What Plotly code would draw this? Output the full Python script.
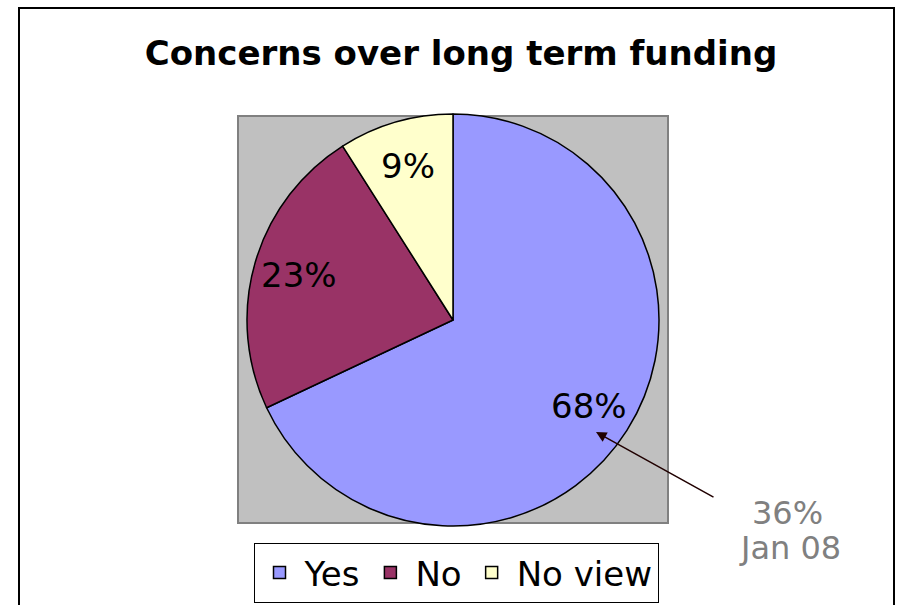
import math
import plotly.graph_objects as go

categories = ["Yes", "No", "No view"]
values = [68, 23, 9]
colors = ["#9999FF", "#993366", "#FFFFCC"]
title_text = "Concerns over long term funding"
note_lines = ["36%", "Jan 08"]

W, H = 899, 605

def px(x):
    return x / W

def py(y):
    return 1 - y / H

cx, cy, r = 453, 320, 206

fig = go.Figure()
fig.add_trace(go.Pie(
    labels=categories,
    values=values,
    sort=False,
    direction="clockwise",
    rotation=0,
    marker=dict(colors=colors, line=dict(color="black", width=1.5)),
    textinfo="none",
    domain=dict(x=[px(cx - r), px(cx + r)], y=[py(cy + r), py(cy - r)]),
    hoverinfo="skip",
))

shapes = [
    dict(type="rect", xref="paper", yref="paper", layer="below",
         x0=px(238), x1=px(668), y0=py(523), y1=py(116),
         fillcolor="#C0C0C0", line=dict(color="#808080", width=2)),
    dict(type="rect", xref="paper", yref="paper", layer="above",
         x0=px(19), x1=px(894), y0=-0.05, y1=py(8),
         fillcolor="rgba(0,0,0,0)", line=dict(color="black", width=2)),
]

annotations = []
# slice percentage labels placed at the mid-angle of each slice
total = sum(values)
cum = 0.0
label_r = 0.78 * r
for v in values:
    mid = (cum + v / 2) / total * 2 * math.pi
    cum += v
    lx = cx + label_r * math.sin(mid)
    ly = cy - label_r * math.cos(mid)
    annotations.append(dict(
        xref="paper", yref="paper", x=px(lx), y=py(ly),
        text=f"{round(v / total * 100)}%", showarrow=False,
        xanchor="center", yanchor="middle",
        font=dict(family="DejaVu Sans", size=34, color="black")))

annotations += [
    dict(xref="paper", yref="paper", x=px(596), y=py(432), text="",
         showarrow=True, ax=119, ay=66, arrowhead=2, arrowsize=1.4,
         arrowwidth=1.5, arrowcolor="#200000"),
    dict(xref="paper", yref="paper", x=px(787), y=py(513), text=note_lines[0],
         showarrow=False, xanchor="center", yanchor="middle",
         font=dict(family="DejaVu Sans", size=32, color="#808080")),
    dict(xref="paper", yref="paper", x=px(790), y=py(548), text=note_lines[1],
         showarrow=False, xanchor="center", yanchor="middle",
         font=dict(family="DejaVu Sans", size=32, color="#808080")),
]

fig.update_layout(
    width=W, height=H,
    margin=dict(l=0, r=0, t=0, b=0),
    paper_bgcolor="white",
    plot_bgcolor="white",
    title=dict(text="<b>" + title_text + "</b>", x=px(461), xanchor="center",
               y=py(53), yanchor="middle",
               font=dict(family="DejaVu Sans", size=34, color="black")),
    legend=dict(orientation="h", x=px(456), y=py(573), xanchor="center",
                yanchor="middle", bordercolor="black", borderwidth=1,
                bgcolor="white",
                font=dict(family="DejaVu Sans", size=34, color="black"),
                itemwidth=40),
    shapes=shapes,
    annotations=annotations,
)

fig.write_html("out.html")
